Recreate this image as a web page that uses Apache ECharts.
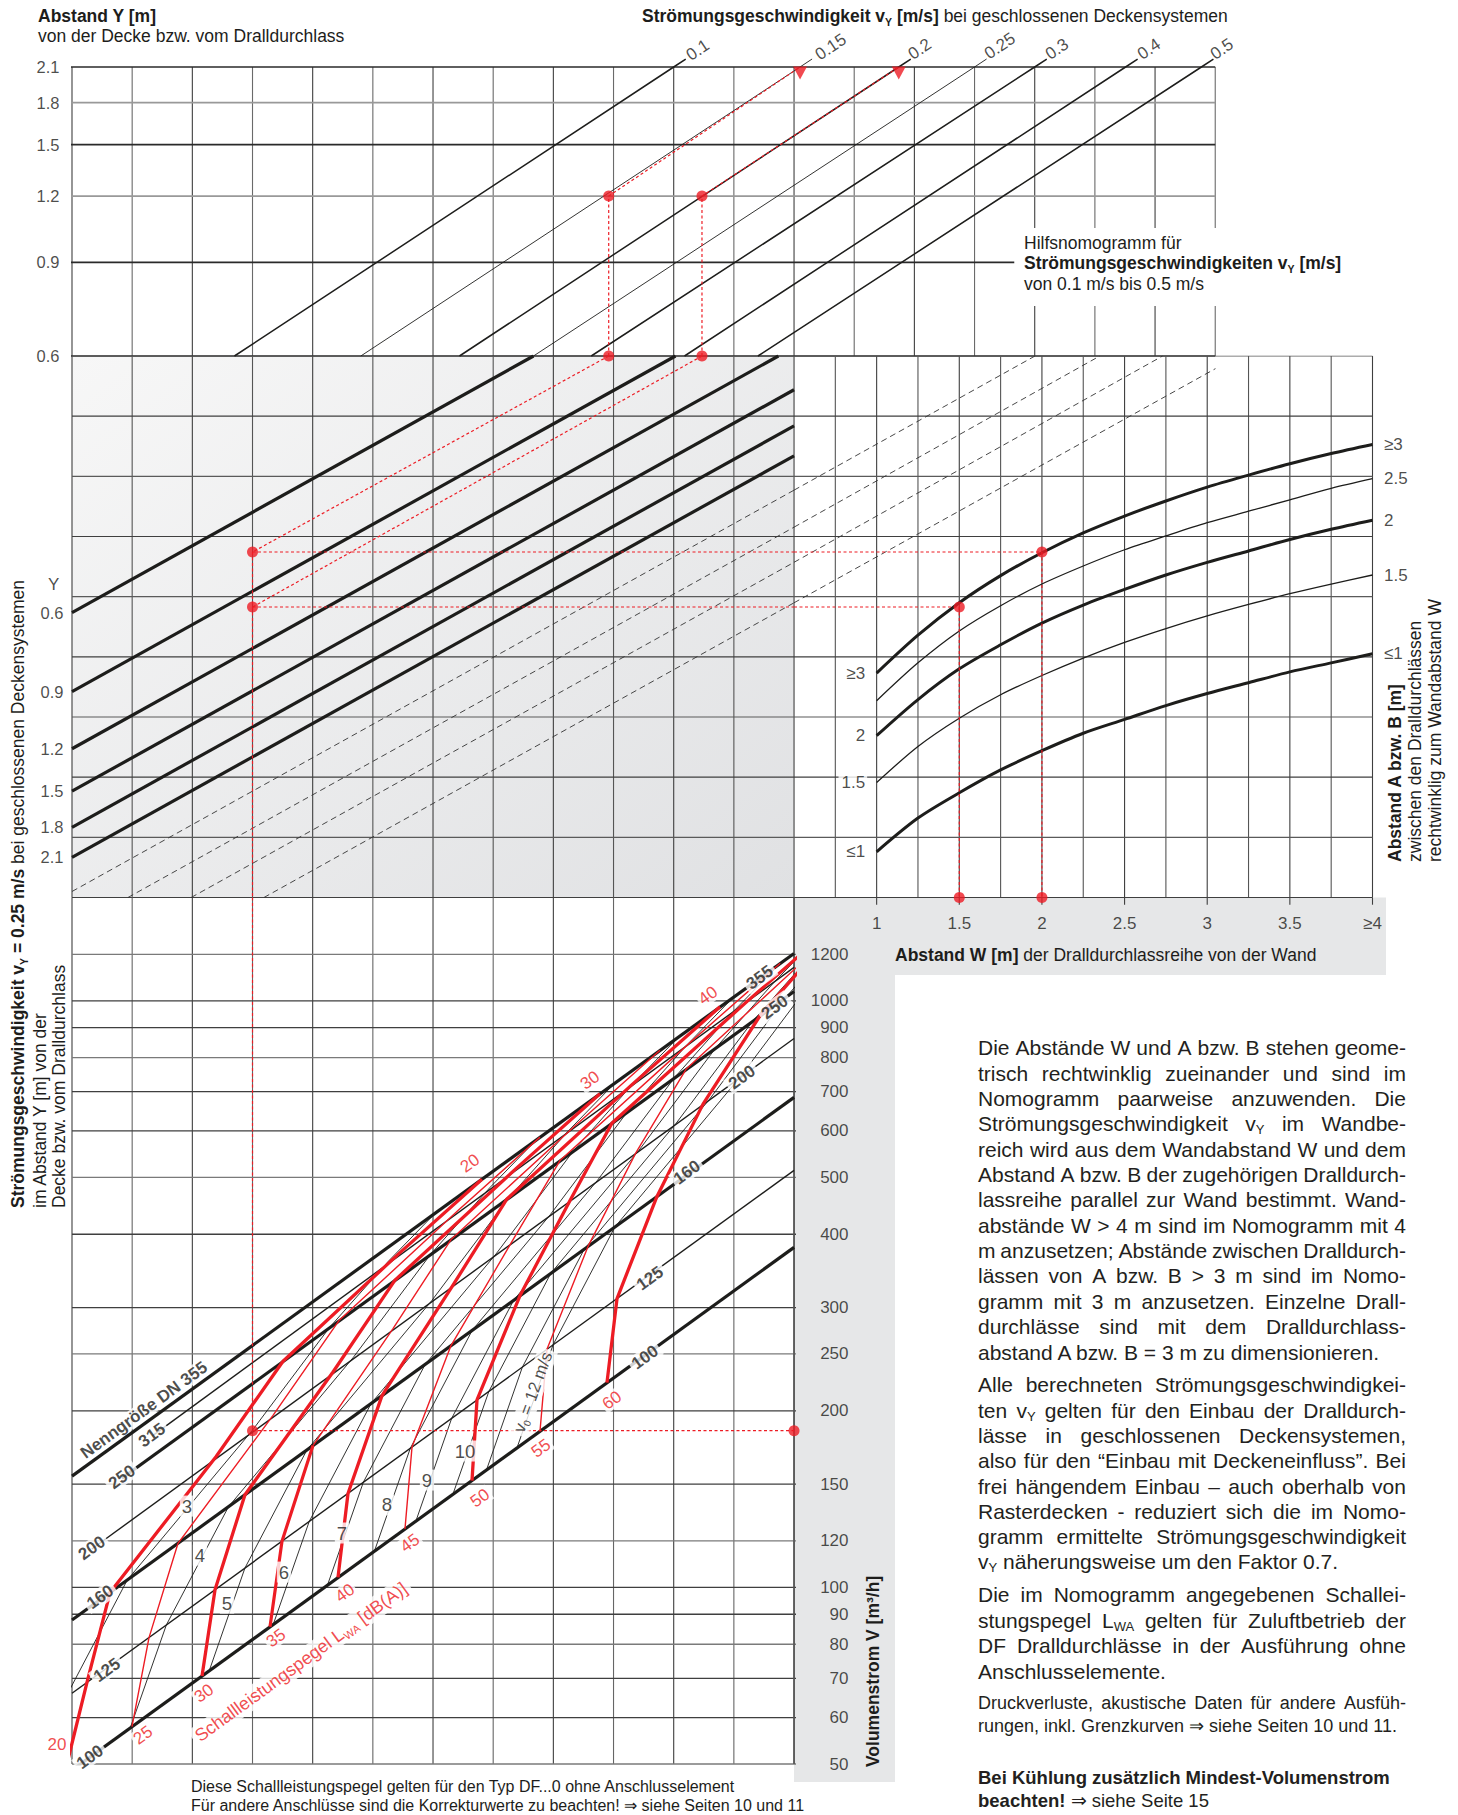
<!DOCTYPE html>
<html lang="de">
<head>
<meta charset="utf-8">
<title>Nomogramm DF Dralldurchlass</title>
<script src="https://cdn.jsdelivr.net/npm/echarts@6/dist/echarts.min.js"></script>
<style>
html,body{margin:0;padding:0;background:#fff;}
#wrap{position:relative;width:1458px;height:1815px;overflow:hidden;}
#chart{position:absolute;left:0;top:0;width:1458px;height:1815px;}
#notes{position:absolute;left:978px;top:0;width:428px;font-family:'Liberation Sans',Arial,Helvetica,sans-serif;color:#231f20;}
#notes .ln{position:absolute;left:0;width:428px;white-space:nowrap;}
#notes .j{display:flex;justify-content:space-between;}
#notes sub{font-size:0.62em;vertical-align:-0.2em;line-height:0;}
</style>
</head>
<body>
<div id="wrap"><div id="chart"></div><div id="notes"></div></div>
<script>
// ===================== DATA =====================
// --- top: Hilfsnomogramm (x = grid column, y = Abstand Y [m], log) ---
const topYTicks = [2.1, 1.8, 1.5, 1.2, 0.9, 0.6];
const vyNames = ['0.1', '0.15', '0.2', '0.25', '0.3', '0.4', '0.5'];
const vyColAtY06 = [2.7, 4.8, 6.44, 7.67, 8.63, 10.18, 11.4];
const vyColAtY21 = [10.0, 12.1, 13.74, 15.0, 16.0, 17.51, 18.77];
const vyLabelPos = [[10.4, 2.26], [12.61, 2.29], [14.09, 2.27], [15.42, 2.3], [16.37, 2.27], [17.9, 2.27], [19.11, 2.27]];

// --- middle left (grey): x = grid column, y = grid row (0 bottom .. 9 top) ---
const yNames = ['0.6', '0.9', '1.2', '1.5', '1.8', '2.1'];
const yLineRowAtLeft = [4.735, 3.422, 2.472, 1.767, 1.167, 0.668];
const yLineEnd = [[7.67, 9], [10.03, 9], [11.74, 9], [12, 8.439], [12, 7.839], [12, 7.34]];
const dashInGrey = [[[0, 0.1], [12, 6.77]], [[0.93, 0], [12, 6.155]], [[1.98, 0], [12, 5.571]], [[3.19, 0], [12, 4.898]]];
const dashInWall = [[[0.5, 6.77], [1.958, 9]], [[0.5, 6.155], [2.35, 9]], [[0.5, 5.571], [2.73, 9]], [[0.5, 4.898], [3.05, 8.79]]];

// --- middle right: x = Abstand W [m], y = grid row ---
const wSteps = [1, 1.25, 1.5, 1.75, 2, 2.25, 2.5, 2.75, 3, 3.25, 3.5, 3.75, 4];
const abNames = ['≥3', '2.5', '2', '1.5', '≤1'];
const abLeftNames = ['≥3', '', '2', '1.5', '≤1'];
const abGe3 = [3.73, 4.36, 4.90, 5.35, 5.73, 6.06, 6.34, 6.59, 6.82, 7.02, 7.21, 7.38, 7.53];
const ab25 = [3.27, 3.90, 4.43, 4.85, 5.21, 5.51, 5.78, 6.01, 6.23, 6.42, 6.61, 6.80, 6.96];
const ab2 = [2.69, 3.29, 3.80, 4.20, 4.56, 4.86, 5.12, 5.36, 5.57, 5.76, 5.95, 6.12, 6.27];
const ab15 = [1.91, 2.51, 2.98, 3.37, 3.69, 3.98, 4.24, 4.47, 4.68, 4.87, 5.05, 5.21, 5.36];
const abLe1 = [0.76, 1.32, 1.74, 2.12, 2.44, 2.73, 2.96, 3.19, 3.39, 3.57, 3.75, 3.90, 4.05];
const wTicks = [1, 1.5, 2, 2.5, 3, 3.5, 4];
const wTickNames = ['1', '1.5', '2', '2.5', '3', '3.5', '≥4'];

// --- bottom: x = grid column, y = Volumenstrom V [m3/h] (log) ---
const vTicks = [1200, 1000, 900, 800, 700, 600, 500, 400, 300, 250, 200, 150, 120, 100, 90, 80, 70, 60, 50];
const dnNames = ['355', '315', '250', '200', '160', '125', '100'];
const dnFrom = [[0, 154.8], [1.33, 181.1], [0.83, 153.5], [0.33, 116.3], [0, 88.0], [0, 66.0], [0, 48.8]];
const dnTo = [[12, 1204], [12, 1140], [12, 1037], [12, 862.6], [12, 684.5], [12, 514], [12, 379.9]];
const dnLabelLeft = [[1.197, 200.6], [1.33, 181.8], [0.83, 154.2], [0.33, 116.7], [0.47, 96.3], [0.58, 72.3], [0.30, 51.4]];
const dnLabelRight = [[11.43, 1096], null, [11.68, 974.7], [11.135, 740.6], [10.22, 510], [9.606, 336.5], [9.523, 246.8]];

// sound power level curves L_WA (points on DN100,125,160,200,250,315,355)
const lwaNames = [20, 25, 30, 35, 40, 45, 50, 55, 60];
const lwa20 = [[-0.133, 47.7], [0.249, 68.9], [0.632, 98.0], [2.393, 167.0], [3.507, 243.0], [5.451, 372.2], [6.814, 496.4]];
const lwa25 = [[0.997, 57.9], [1.280, 82.1], [1.762, 118.9], [3.341, 196.4], [4.437, 285.0], [6.415, 438.9], [7.778, 585.6]];
const lwa30 = [[2.161, 70.6], [2.377, 99.1], [2.875, 143.9], [4.338, 232.9], [5.368, 334.1], [7.379, 517.5], [8.775, 694.3]];
const lwa35 = [[3.291, 85.7], [3.490, 119.9], [4.005, 174.5], [5.335, 276.2], [6.299, 391.8], [8.343, 610.2], [9.772, 823.5]];
const lwa40 = [[4.421, 104.0], [4.587, 144.6], [5.152, 212.3], [6.332, 327.5], [7.229, 459.4], [9.307, 719.6], [10.77, 976.8]];
const lwa45 = [[5.534, 125.8], [5.651, 173.5], [6.299, 258.4], [7.296, 386.2], [8.110, 534.1], [10.27, 848.6], [11.77, 1159]];
const lwa50 = [[6.648, 152.1], [6.731, 208.7], [7.446, 314.4], [8.277, 456.8], [8.975, 619.2], [11.235, 1000.7], [12.76, 1372.6]];
const lwa55 = [[7.778, 184.6], [7.894, 254.6], [8.576, 381.3], [9.373, 551.0], [10.204, 764.2], [12.199, 1180]];
const lwa60 = [[8.891, 223.4], [9.058, 310.7], [9.722, 464.0], [10.487, 666.6], [11.434, 943.0], [12.382, 1217.6]];
const lwaLabelLow = [[0, 53.9], [1.18, 56.0], [2.194, 66.0], [3.39, 82.0], [4.537, 97.8], [5.617, 119.0], [6.781, 142.0], [7.795, 172.7], [8.975, 208.5]];
const lwaTopNames = ['20', '30', '40'];
const lwaLabelTop = [[6.615, 528.5], [8.609, 732], [10.57, 1021]];
const lwaTitlePos = [3.806, 74.6];

// outlet velocity lines v0 [m/s]
const v0Names = ['3', '4', '5', '6', '7', '8', '9', '10', '11', '12'];
const v0_3 = [[-0.713, 43.2], [-0.113, 64.7], [0.917, 102.9], [2.995, 185.1], [4.281, 277.5], [5.261, 360], [6.041, 435]];
const v0_4 = [[0.968, 57.6], [1.568, 86.3], [2.600, 137.2], [4.677, 246.8], [5.963, 370], [6.942, 480], [7.722, 580]];
const v0_5 = [[2.281, 72.1], [2.874, 107.9], [3.904, 171.5], [5.982, 308.5], [7.267, 462.5], [8.248, 600], [9.027, 725]];
const v0_6 = [[3.345, 86.5], [3.942, 129.5], [4.971, 205.8], [7.047, 370.2], [8.334, 555], [9.313, 720], [10.093, 870]];
const v0_7 = [[4.246, 100.9], [4.842, 151.1], [5.871, 240.1], [7.949, 431.9], [9.234, 647.5], [10.215, 840], [10.995, 1015]];
const v0_8 = [[5.026, 115.3], [5.622, 172.6], [6.652, 274.4], [8.729, 493.6], [10.015, 740], [10.996, 960], [11.776, 1160]];
const v0_9 = [[5.715, 129.7], [6.310, 194.2], [7.340, 308.7], [9.418, 555.3], [10.704, 832.5], [11.684, 1080], [12.464, 1305]];
const v0_10 = [[6.330, 144.1], [6.928, 215.8], [7.957, 343], [10.034, 617], [11.320, 925], [12.30, 1200]];
const v0_11 = [[6.888, 158.5], [7.485, 237.4], [8.514, 377.3], [10.592, 678.7], [11.877, 1017.5], [12.85, 1320]];
const v0_12 = [[7.395, 172.9], [7.994, 259.0], [9.023, 411.6], [11.10, 740.4], [12.386, 1110]];
const v0LabelNames = ['3', '4', '5', '6', '7', '8', '9', '10'];
const v0LabelPos = [[1.911, 137.6], [2.127, 113.5], [2.576, 94.0], [3.523, 106.2], [4.487, 123.8], [5.235, 138.2], [5.900, 152.4], [6.532, 170.8]];
const v0TitlePos = [7.661, 215.1];

// worked example (red dotted)
const exTopCols = [8.92, 10.47];
const exTopEnds = [[12.1, 2.1], [13.74, 2.1]];
const exRows = [5.742, 4.828];
const exW = [2, 1.5];
const exCol = 3;
const exV = 185;

// ===================== STYLE / LAYOUT =====================
const RED = '#ed1c24', INK = '#1d1d1b', GRD = '#3f3f3f', GRL = '#999999';
const F = "'Liberation Sans', Arial, Helvetica, sans-serif";
const COL = 60.17;
const S = [];
function line(g, pts, color, width, extra) {
  S.push(Object.assign({
    type: 'line', xAxisIndex: g, yAxisIndex: g, data: pts, symbol: 'none', silent: true,
    animation: false, z: 3, clip: true,
    lineStyle: { color: color, width: width, cap: 'butt', join: 'round' }
  }, extra || {}));
}
function dashLine(g, pts, color, width, dash, z) {
  line(g, pts, color, width, { z: z, lineStyle: { color: color, width: width, type: dash, cap: 'butt' } });
}
function labels(g, items, style, z) {
  S.push({
    type: 'scatter', xAxisIndex: g, yAxisIndex: g, symbolSize: 1, silent: true, animation: false,
    clip: false, z: z || 10, itemStyle: { color: 'rgba(0,0,0,0)' },
    data: items.map(it => ({
      value: it.value,
      label: Object.assign({ show: true, formatter: it.text, fontFamily: F, color: INK }, style, it.style || {})
    }))
  });
}
function dots(g, pts) {
  S.push({ type: 'scatter', xAxisIndex: g, yAxisIndex: g, symbol: 'circle', symbolSize: 11, silent: true,
    animation: false, clip: false, z: 12, itemStyle: { color: RED }, data: pts });
}

// ---------- top panel ----------
for (let c = 0; c <= 19; c++) {
  const col = (c % 2 === 0) ? GRD : '#6a6a6a';
  if (c >= 16) {
    line(0, [[c, 0.6], [c, 0.745]], col, 1.1, { z: 1 });
    line(0, [[c, 1.045], [c, 2.1]], col, 1.1, { z: 1 });
  } else {
    line(0, [[c, 0.6], [c, 2.1]], col, 1.1, { z: 1 });
  }
}
topYTicks.forEach((y, i) => {
  const light = (y === 1.8 || y === 1.2);
  line(0, [[-0.1, y], [y === 0.9 ? 15.66 : 19, y]], light ? GRL : '#2a2a2a', 1.7, { z: 1, clip: false });
});
vyNames.forEach((n, i) => {
  // line runs on a little past the top border, towards its label
  line(0, [[vyColAtY06[i], 0.6], [vyColAtY21[i], 2.1], [vyColAtY21[i] + 0.2, 2.174]], INK,
    (i === 1 || i === 3) ? 0.9 : 1.5, { z: 3, clip: false });
});
labels(0, vyNames.map((n, i) => ({ value: vyLabelPos[i], text: n })), { position: 'inside', rotate: 34, fontSize: 17 });
labels(0, topYTicks.map(y => ({ value: [0, y], text: y.toFixed(1) })), { position: 'left', distance: 12, fontSize: 16.5 });

// ---------- grey panel ----------
for (let c = 0; c <= 12; c++) line(1, [[c, 0], [c, 9]], (c % 2 === 0) ? GRD : '#555', 1.1, { z: 1 });
for (let r = 0; r <= 9; r++) line(1, [[0, r], [12, r]], (r % 2 === 1) ? '#5a5a5a' : GRD, 1.2, { z: 1 });
yNames.forEach((n, i) => line(1, [[0, yLineRowAtLeft[i]], yLineEnd[i]], INK, 3.2, { z: 3 }));
dashInGrey.forEach(p => dashLine(1, p, '#333', 0.9, [6, 4], 2));
labels(1, yNames.map((n, i) => ({ value: [0, yLineRowAtLeft[i]], text: n })), { position: 'left', distance: 8, fontSize: 16.5 });
labels(1, [{ value: [-0.306, 5.2], text: 'Y' }], { position: 'inside', fontSize: 17 });

// ---------- wall panel (right) ----------
for (let w = 0.75; w <= 4.001; w += 0.25) line(2, [[w, 0], [w, 9]], (Math.round(w * 4) % 2 === 0) ? GRD : '#555', 1.1, { z: 1 });
wTicks.forEach(w => line(2, [[w, -0.12], [w, 0]], GRD, 1.1, { z: 1, clip: false }));
for (let r = 0; r <= 9; r++) line(2, [[0.5, r], [4, r]], (r % 2 === 1) ? '#5a5a5a' : GRD, 1.2, { z: 1 });
dashInWall.forEach(p => dashLine(2, p, '#333', 0.9, [6, 4], 2));
const abCurves = [abGe3, ab25, ab2, ab15, abLe1];
abCurves.forEach((rows, i) => {
  line(2, wSteps.map((w, k) => [w, rows[k]]), INK, (i % 2 === 0) ? 3.0 : 1.3, { z: 3, smooth: 0.3 });
});
labels(2, abNames.map((n, i) => ({ value: [4, abCurves[i][abCurves[i].length - 1]], text: n })), { position: 'right', distance: 11, fontSize: 17 });
labels(2, abLeftNames.map((n, i) => ({ value: [1, abCurves[i][0]], text: n })).filter(d => d.text),
  { position: 'left', distance: 9, fontSize: 17, backgroundColor: '#fff', padding: [2, 2, 2, 3] });
labels(2, wTicks.map((w, i) => ({ value: [w, 0], text: wTickNames[i] })), { position: 'bottom', distance: 17, fontSize: 17 });

// ---------- bottom panel ----------
for (let c = 0; c <= 12; c++) line(3, [[c, 50], [c, 1500]], (c % 2 === 0) ? GRD : '#666', 1.1, { z: 1 });
vTicks.forEach((v, i) => line(3, [[0, v], [12.13, v]], (i % 3 === 0) ? '#7a7a7a' : GRD, 1.3, { z: 1, clip: false }));
line(3, [[12, 50], [12, 1500]], '#555', 1.6, { z: 1 });
labels(3, vTicks.map(v => ({ value: [12, v], text: String(v) })), { position: 'right', distance: 54, align: 'right', fontSize: 17 });

const v0Lines = [v0_3, v0_4, v0_5, v0_6, v0_7, v0_8, v0_9, v0_10, v0_11, v0_12];
v0Lines.forEach(p => line(3, p, INK, 0.9, { z: 3 }));
dnNames.forEach((n, i) => line(3, [dnFrom[i], dnTo[i]], INK, (i % 2 === 0) ? 3.2 : 1.4, { z: 4 }));

const lwaCurves = [lwa20, lwa25, lwa30, lwa35, lwa40, lwa45, lwa50, lwa55, lwa60];
lwaCurves.forEach((p, i) => {
  const L = lwaNames[i];
  if (L === 35) {
    line(3, p.slice(0, 3), RED, 3.2, { z: 5 });
    line(3, p.slice(2), RED, 1.4, { z: 5 });
  } else {
    line(3, p, RED, (L % 10 === 0) ? 3.3 : 1.4, { z: 5 });
  }
});

// labels bottom
const dnLabStyle = { position: 'inside', rotate: 36, fontSize: 17, fontWeight: 'bold', backgroundColor: '#fff', padding: [0, 3] };
labels(3, dnNames.map((n, i) => ({ value: dnLabelLeft[i], text: i === 0 ? 'Nenngröße DN 355' : n })), dnLabStyle, 11);
labels(3, dnNames.map((n, i) => dnLabelRight[i] ? ({ value: dnLabelRight[i], text: n }) : null).filter(Boolean), dnLabStyle, 11);
labels(3, lwaNames.map((n, i) => ({ value: lwaLabelLow[i], text: String(n),
  style: i === 0 ? { position: 'left', distance: 3, rotate: 0, backgroundColor: 'transparent' } : {} })),
  { position: 'inside', rotate: 36, fontSize: 17, color: RED, backgroundColor: '#fff', padding: [0, 2] }, 11);
labels(3, lwaTopNames.map((n, i) => ({ value: lwaLabelTop[i], text: n })),
  { position: 'inside', rotate: 36, fontSize: 17, color: RED, backgroundColor: '#fff', padding: [0, 2] }, 11);
labels(3, [{ value: lwaTitlePos, text: '{a|Schallleistungspegel L}{s|WA}{a| [dB(A)]}' }],
  { position: 'inside', rotate: 36, color: RED, backgroundColor: '#fff', padding: [0, 4],
    rich: { a: { fontSize: 18, color: RED, fontFamily: F, lineHeight: 22 }, s: { fontSize: 11, color: RED, fontFamily: F, lineHeight: 22, verticalAlign: 'bottom' } } }, 11);
labels(3, v0LabelNames.map((n, i) => ({ value: v0LabelPos[i], text: n })),
  { position: 'inside', fontSize: 18.5, backgroundColor: '#fff', padding: [1, 2] }, 11);
labels(3, [{ value: v0TitlePos, text: '{a|v}{s|0}{a| = 12 m/s}' }],
  { position: 'inside', rotate: 70, backgroundColor: '#fff', padding: [0, 3],
    rich: { a: { fontSize: 17, color: INK, fontFamily: F, lineHeight: 20 }, s: { fontSize: 10, color: INK, fontFamily: F, lineHeight: 20, verticalAlign: 'bottom' } } }, 11);

// ---------- worked example ----------
const DOT = [3, 2.5];
exTopCols.forEach((c, i) => {
  dashLine(0, [[c, 0.6], [c, 1.2]], RED, 1.2, DOT, 6);
  dashLine(0, [[c, 1.2], exTopEnds[i]], RED, 1.2, DOT, 6);
  dashLine(1, [[c, 9], [exCol, exRows[i]]], RED, 1.2, DOT, 6);
  dashLine(1, [[exCol, exRows[i]], [12, exRows[i]]], RED, 1.2, DOT, 6);
  dashLine(2, [[0.5, exRows[i]], [exW[i], exRows[i]]], RED, 1.2, DOT, 6);
  dashLine(2, [[exW[i], exRows[i]], [exW[i], 0]], RED, 1.2, DOT, 6);
});
dashLine(1, [[exCol, exRows[0]], [exCol, 0]], RED, 1.2, DOT, 6);
dashLine(3, [[exCol, 1500], [exCol, exV]], RED, 1.2, DOT, 6);
dashLine(3, [[exCol, exV], [12, exV]], RED, 1.2, DOT, 6);
dots(0, exTopCols.map(c => [c, 1.2]).concat(exTopCols.map(c => [c, 0.6])));
dots(1, exRows.map(r => [exCol, r]));
dots(2, exW.map((w, i) => [w, exRows[i]]).concat(exW.map(w => [w, 0])));
dots(3, [[exCol, exV], [12, exV]]);
S.push({ type: 'scatter', xAxisIndex: 0, yAxisIndex: 0, symbol: 'triangle', symbolRotate: 180, symbolSize: [14, 13],
  symbolOffset: [0, 6], silent: true, animation: false, clip: false, z: 12, itemStyle: { color: RED }, data: exTopEnds });

// ---------- texts (graphic) ----------
function gtext(x, y, text, style, extra) {
  return Object.assign({ type: 'text', x: x, y: y, z: 100, silent: true,
    style: Object.assign({ text: text, fill: INK, fontFamily: F, fontSize: 17.5, align: 'left', verticalAlign: 'middle' }, style || {}) }, extra || {});
}
const RB = { fontWeight: 'bold', fontSize: 17.5, fontFamily: F, fill: INK, lineHeight: 22 };
const RBS = { fontWeight: 'bold', fontSize: 10.5, fontFamily: F, fill: INK, lineHeight: 22, verticalAlign: 'bottom' };
const RN = { fontSize: 17.5, fontFamily: F, fill: INK, lineHeight: 22 };
const graphics = [
  { type: 'rect', z: 0, silent: true, shape: { x: 794, y: 897.5, width: 592, height: 77.5 }, style: { fill: '#e6e7e8' } },
  { type: 'rect', z: 0, silent: true, shape: { x: 794, y: 897.5, width: 101, height: 884.5 }, style: { fill: '#e6e7e8' } },
  gtext(38, 16, 'Abstand Y [m]', { fontWeight: 'bold' }),
  gtext(38, 36, 'von der Decke bzw. vom Dralldurchlass'),
  gtext(642, 16, '{b|Strömungsgeschwindigkeit v}{bs|Y}{b| [m/s]}{n| bei geschlossenen Deckensystemen}', { rich: { b: RB, bs: RBS, n: RN } }),
  gtext(1024, 243, 'Hilfsnomogramm für'),
  gtext(1024, 263, '{b|Strömungsgeschwindigkeiten v}{bs|Y}{b| [m/s]}', { rich: { b: RB, bs: RBS } }),
  gtext(1024, 284, 'von 0.1 m/s bis 0.5 m/s'),
  gtext(18, 1208, '{b|Strömungsgeschwindigkeit v}{bs|Y}{b| = 0.25 m/s}{n| bei geschlossenen Deckensystemen}', { rich: { b: RB, bs: RBS, n: RN } }, { rotation: Math.PI / 2 }),
  gtext(40, 1208, 'im Abstand Y [m] von der', {}, { rotation: Math.PI / 2 }),
  gtext(59, 1208, 'Decke bzw. vom Dralldurchlass', {}, { rotation: Math.PI / 2 }),
  gtext(1395, 862, 'Abstand A bzw. B [m]', { fontWeight: 'bold' }, { rotation: Math.PI / 2 }),
  gtext(1415, 862, 'zwischen den Dralldurchlässen', {}, { rotation: Math.PI / 2 }),
  gtext(1435, 862, 'rechtwinklig zum Wandabstand W', {}, { rotation: Math.PI / 2 }),
  gtext(895, 955, '{b|Abstand W [m]}{n| der Dralldurchlassreihe von der Wand}', { rich: { b: RB, n: RN } }),
  gtext(873, 1767, 'Volumenstrom V [m³/h]', { fontWeight: 'bold' }, { rotation: Math.PI / 2 }),
  gtext(191, 1786, 'Diese Schallleistungspegel gelten für den Typ DF...0 ohne Anschlusselement', { fontSize: 16 }),
  gtext(191, 1805, 'Für andere Anschlüsse sind die Korrekturwerte zu beachten! ⇒ siehe Seiten 10 und 11', { fontSize: 16 })
];

const chart = echarts.init(document.getElementById('chart'), null, { renderer: 'svg', width: 1458, height: 1815 });
chart.setOption({
  backgroundColor: '#ffffff',
  animation: false,
  grid: [
    { left: 72, top: 67, width: 19 * COL, height: 289 },
    { left: 72, top: 356, width: 12 * COL, height: 541.5, show: true, borderWidth: 0,
      backgroundColor: new echarts.graphic.LinearGradient(0, 0, 1, 1, [{ offset: 0, color: '#f7f7f7' }, { offset: 1, color: '#e0e1e3' }]) },
    { left: 794, top: 356, width: 578.5, height: 541.5 },
    { left: 72, top: 897.5, width: 12 * COL, height: 866.5 }
  ],
  xAxis: [
    { gridIndex: 0, type: 'value', min: 0, max: 19, show: false },
    { gridIndex: 1, type: 'value', min: 0, max: 12, show: false },
    { gridIndex: 2, type: 'value', min: 0.5, max: 4, show: false },
    { gridIndex: 3, type: 'value', min: 0, max: 12, show: false }
  ],
  yAxis: [
    { gridIndex: 0, type: 'log', logBase: 10, min: 0.6, max: 2.1, show: false },
    { gridIndex: 1, type: 'value', min: 0, max: 9, show: false },
    { gridIndex: 2, type: 'value', min: 0, max: 9, show: false },
    { gridIndex: 3, type: 'log', logBase: 10, min: 50, max: 1500, show: false }
  ],
  graphic: graphics,
  series: S
});

// ---------- explanatory text block (justified lines) ----------
const noteBlocks = [
  { y0: 1048, dy: 25.35, fs: 21, bold: false, just: true, lines: [
    'Die Abstände W und A bzw. B stehen geome-',
    'trisch rechtwinklig zueinander und sind im',
    'Nomogramm paarweise anzuwenden. Die',
    'Strömungsgeschwindigkeit v<sub>Y</sub> im Wandbe-',
    'reich wird aus dem Wandabstand W und dem',
    'Abstand A bzw. B der zugehörigen Dralldurch-',
    'lassreihe parallel zur Wand bestimmt. Wand-',
    'abstände W &gt; 4 m sind im Nomogramm mit 4',
    'm anzusetzen; Abstände zwischen Dralldurch-',
    'lässen von A bzw. B &gt; 3 m sind im Nomo-',
    'gramm mit 3 m anzusetzen. Einzelne Drall-',
    'durchlässe sind mit dem Dralldurchlass-',
    'abstand A bzw. B = 3 m zu dimensionieren.'] },
  { y0: 1385, dy: 25.3, fs: 21, bold: false, just: true, lines: [
    'Alle berechneten Strömungsgeschwindigkei-',
    'ten v<sub>Y</sub> gelten für den Einbau der Dralldurch-',
    'lässe in geschlossenen Deckensystemen,',
    'also für den “Einbau mit Deckeneinfluss”. Bei',
    'frei hängendem Einbau – auch oberhalb von',
    'Rasterdecken - reduziert sich die im Nomo-',
    'gramm ermittelte Strömungsgeschwindigkeit',
    'v<sub>Y</sub> näherungsweise um den Faktor 0.7.'] },
  { y0: 1595, dy: 25.6, fs: 21, bold: false, just: true, lines: [
    'Die im Nomogramm angegebenen Schallei-',
    'stungspegel L<sub>WA</sub> gelten für Zuluftbetrieb der',
    'DF Dralldurchlässe in der Ausführung ohne',
    'Anschlusselemente.'] },
  { y0: 1703, dy: 23, fs: 18, bold: false, just: true, lines: [
    'Druckverluste, akustische Daten für andere Ausfüh-',
    'rungen, inkl. Grenzkurven ⇒ siehe Seiten 10 und 11.'] },
  { y0: 1777, dy: 23, fs: 18.5, bold: true, just: false, lines: [
    '<b>Bei Kühlung zusätzlich Mindest-Volumenstrom</b>',
    '<b>beachten!</b> ⇒ siehe Seite 15'] }
];
const notes = document.getElementById('notes');
noteBlocks.forEach(b => {
  b.lines.forEach((t, k) => {
    const d = document.createElement('div');
    const last = (k === b.lines.length - 1);
    const justify = b.just && !last;
    d.className = 'ln' + (justify ? ' j' : '');
    d.style.top = (b.y0 + k * b.dy - b.dy / 2) + 'px';
    d.style.height = b.dy + 'px';
    d.style.lineHeight = b.dy + 'px';
    d.style.fontSize = b.fs + 'px';
    if (justify) {
      t.split(' ').forEach(w => { const s = document.createElement('span'); s.innerHTML = w; d.appendChild(s); });
    } else {
      d.innerHTML = t;
    }
    notes.appendChild(d);
  });
});
</script>
</body>
</html>
